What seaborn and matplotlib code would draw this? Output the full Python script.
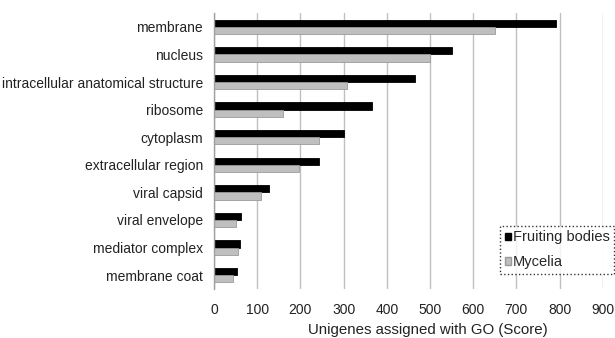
import pandas as pd
import matplotlib
matplotlib.use("Agg")
import matplotlib.pyplot as plt
import seaborn as sns

# GO cellular component terms
categories = ["membrane", "nucleus", "intracellular anatomical structure", "ribosome",
              "cytoplasm", "extracellular region", "viral capsid", "viral envelope",
              "mediator complex", "membrane coat"]
fruiting_bodies = [791, 551, 465, 365, 302, 242, 127, 62, 60, 53]
mycelia = [650, 499, 307, 159, 244, 196, 109, 50, 55, 43]
series_names = ["Fruiting bodies", "Mycelia"]
x_ticks = [0, 100, 200, 300, 400, 500, 600, 700, 800, 900]

df = pd.DataFrame({
    "term": categories * 2,
    "score": fruiting_bodies + mycelia,
    "sample": [series_names[0]] * len(categories) + [series_names[1]] * len(categories),
})

sns.set_style("white")
plt.rcParams["font.family"] = ["Liberation Sans", "DejaVu Sans"]

fig = plt.figure(figsize=(6.15, 3.38), dpi=100)
ax = fig.add_axes([0.348, 0.145, 0.632, 0.8165])

sns.barplot(data=df, x="score", y="term", hue="sample", orient="h",
            palette=["black", "#bfbfbf"], width=0.52, ax=ax, legend=False)

# outline colours
for patch in ax.containers[0]:
    patch.set_edgecolor("black")
    patch.set_linewidth(0.6)
for patch in ax.containers[1]:
    patch.set_edgecolor("#9a9a9a")
    patch.set_linewidth(0.6)

ax.set_xlim(0, 900)
ax.set_xticks(x_ticks)
ax.set_xticklabels([str(t) for t in x_ticks])
ax.xaxis.grid(True, color="#c0c0c0", linewidth=1)
ax.set_axisbelow(True)
ax.tick_params(axis="both", length=0, labelsize=10, colors="#222222")
ax.tick_params(axis="x", pad=10)
ax.tick_params(axis="y", pad=8)
for s in ["top", "right", "bottom"]:
    ax.spines[s].set_visible(False)
ax.spines["left"].set_color("#a0a0a0")
ax.spines["left"].set_linewidth(1)

ax.set_ylabel("")
ax.set_xlabel("Unigenes assigned with GO (Score)", fontsize=10.8, color="#222222")
ax.xaxis.set_label_coords(0.55, -0.125)

handles = [plt.Rectangle((0, 0), 1, 1, facecolor="black", edgecolor="black"),
           plt.Rectangle((0, 0), 1, 1, facecolor="#bfbfbf", edgecolor="#9a9a9a")]
leg = fig.legend(handles, series_names, loc="upper right",
                 bbox_to_anchor=(0.998, 0.331), fontsize=10.5, frameon=True,
                 fancybox=False, handlelength=0.42, handleheight=0.42,
                 handletextpad=0.12, borderpad=0.3, labelspacing=0.75,
                 borderaxespad=0)
leg.get_frame().set_edgecolor("black")
leg.get_frame().set_linestyle(":")
leg.get_frame().set_linewidth(1)

fig.savefig("out.png", dpi=100)
